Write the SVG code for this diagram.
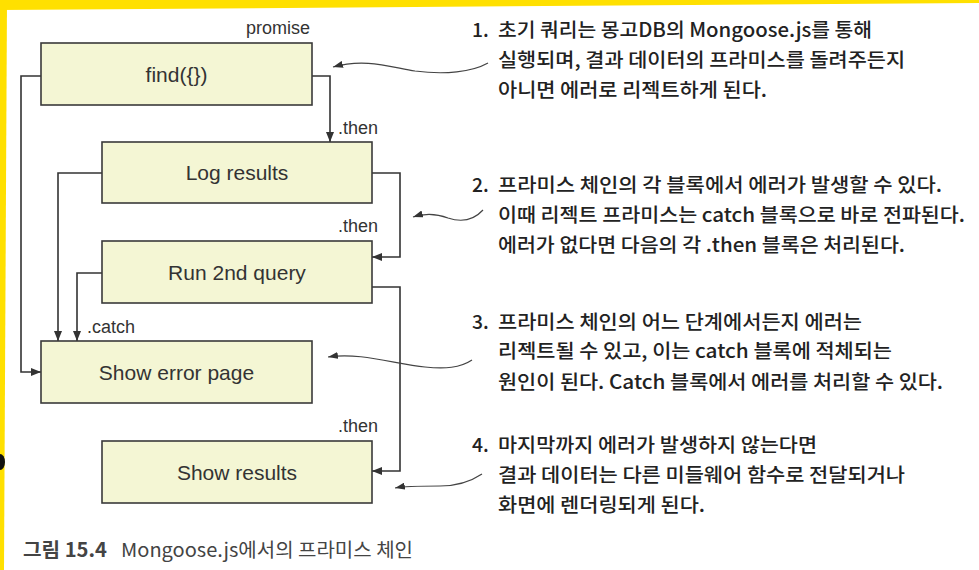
<svg xmlns="http://www.w3.org/2000/svg" width="979" height="570" viewBox="0 0 979 570">
<defs>
<style>
.box{fill:#f4f6d4;stroke:#3a3a3a;stroke-width:1.6}
.lbl{font-family:"Liberation Sans",Arial,sans-serif;font-size:21px;fill:#333;text-anchor:middle}
.sm{font-family:"Liberation Sans",Arial,sans-serif;font-size:18px;fill:#333}
.con{fill:none;stroke:#333;stroke-width:1.6}
.cur{fill:none;stroke:#444;stroke-width:1.2}
.ann{font-family:"Noto Sans CJK KR","Noto Sans",sans-serif;font-size:19.3px;font-weight:500;fill:#222}
.cap{font-family:"Noto Sans CJK KR","Noto Sans",sans-serif;font-size:19.3px;fill:#444}
</style>
<marker id="ah" viewBox="0 0 10 8" refX="10" refY="4" markerWidth="10" markerHeight="8" markerUnits="userSpaceOnUse" orient="auto"><path d="M0,0 L10,4 L0,8 z" fill="#333"/></marker>
<marker id="ah2" viewBox="0 0 10 7" refX="10" refY="3.5" markerWidth="10" markerHeight="7" markerUnits="userSpaceOnUse" orient="auto"><path d="M0,0 L10,3.5 L0,7 z" fill="#333"/></marker>
</defs>
<rect width="979" height="570" fill="#ffffff"/>
<polygon points="0,0 979,0 979,3 0,10" fill="#ffe000"/>
<polygon points="0,0 7,0 4,570 0,570" fill="#ffe000"/>
<ellipse cx="0" cy="462" rx="5" ry="8" fill="#111"/>

<g id="connectors">
<path class="con" d="M312,76 H330 V142" marker-end="url(#ah)"/>
<path class="con" d="M41,76 H21 V372 H41" marker-end="url(#ah)"/>
<path class="con" d="M102,173 H58 V341" marker-end="url(#ah)"/>
<path class="con" d="M372,173 H400 V257 H372" marker-end="url(#ah)"/>
<path class="con" d="M102,273 H77 V341" marker-end="url(#ah)"/>
<path class="con" d="M372,287 H400 V471 H372" marker-end="url(#ah)"/>
<text class="sm" x="310" y="34" text-anchor="end">promise</text>
<text class="sm" x="338" y="134">.then</text>
<text class="sm" x="338" y="232">.then</text>
<text class="sm" x="87" y="333">.catch</text>
<text class="sm" x="338" y="432">.then</text>
</g>

<g id="find">
<rect class="box" x="41" y="43" width="271" height="62"/>
<text class="lbl" x="176.5" y="81.5">find({})</text>
</g>
<g id="log">
<rect class="box" x="102" y="142" width="270" height="61"/>
<text class="lbl" x="237" y="180">Log results</text>
</g>
<g id="run2">
<rect class="box" x="102" y="241" width="270" height="62"/>
<text class="lbl" x="237" y="279.5">Run 2nd query</text>
</g>
<g id="error">
<rect class="box" x="41" y="341" width="271" height="62"/>
<text class="lbl" x="176.5" y="379.5">Show error page</text>
</g>
<g id="results">
<rect class="box" x="102" y="441" width="270" height="62"/>
<text class="lbl" x="237" y="479.5">Show results</text>
</g>

<g id="annotations">
<path class="cur" d="M488,63 C472,72 445,75 415,71 C390,67 365,58 333,67" marker-end="url(#ah2)"/>
<path class="cur" d="M483,210 C472,222 460,222 448,218 C435,213 425,213 413,217" marker-end="url(#ah2)"/>
<path class="cur" d="M472,360 C460,368 445,369 425,367 C395,364 360,352 328,357" marker-end="url(#ah2)"/>
<path class="cur" d="M482,474 C470,482 455,486 440,486 C420,486 405,486 395,488" marker-end="url(#ah2)"/>

<text class="ann" x="472" y="37">1.</text>
<text class="ann" x="498" y="37" textLength="374" lengthAdjust="spacingAndGlyphs">초기 쿼리는 몽고DB의 Mongoose.js를 통해</text>
<text class="ann" x="498" y="67" textLength="407" lengthAdjust="spacingAndGlyphs">실행되며, 결과 데이터의 프라미스를 돌려주든지</text>
<text class="ann" x="498" y="97" textLength="269" lengthAdjust="spacingAndGlyphs">아니면 에러로 리젝트하게 된다.</text>

<text class="ann" x="472" y="192">2.</text>
<text class="ann" x="498" y="192" textLength="444" lengthAdjust="spacingAndGlyphs">프라미스 체인의 각 블록에서 에러가 발생할 수 있다.</text>
<text class="ann" x="498" y="222" textLength="467" lengthAdjust="spacingAndGlyphs">이때 리젝트 프라미스는 catch 블록으로 바로 전파된다.</text>
<text class="ann" x="498" y="252" textLength="407" lengthAdjust="spacingAndGlyphs">에러가 없다면 다음의 각 .then 블록은 처리된다.</text>

<text class="ann" x="472" y="329">3.</text>
<text class="ann" x="498" y="329" textLength="364" lengthAdjust="spacingAndGlyphs">프라미스 체인의 어느 단계에서든지 에러는</text>
<text class="ann" x="498" y="358" textLength="394" lengthAdjust="spacingAndGlyphs">리젝트될 수 있고, 이는 catch 블록에 적체되는</text>
<text class="ann" x="498" y="389" textLength="445" lengthAdjust="spacingAndGlyphs">원인이 된다. Catch 블록에서 에러를 처리할 수 있다.</text>

<text class="ann" x="472" y="452">4.</text>
<text class="ann" x="498" y="452" textLength="319" lengthAdjust="spacingAndGlyphs">마지막까지 에러가 발생하지 않는다면</text>
<text class="ann" x="498" y="482" textLength="407" lengthAdjust="spacingAndGlyphs">결과 데이터는 다른 미들웨어 함수로 전달되거나</text>
<text class="ann" x="498" y="512" textLength="207" lengthAdjust="spacingAndGlyphs">화면에 렌더링되게 된다.</text>
</g>

<g id="caption">
<text class="cap" x="23" y="557" font-weight="bold" fill="#333" textLength="84" lengthAdjust="spacingAndGlyphs">그림 15.4</text>
<text class="cap" x="121" y="557" textLength="292" lengthAdjust="spacingAndGlyphs">Mongoose.js에서의 프라미스 체인</text>
</g>
</svg>
